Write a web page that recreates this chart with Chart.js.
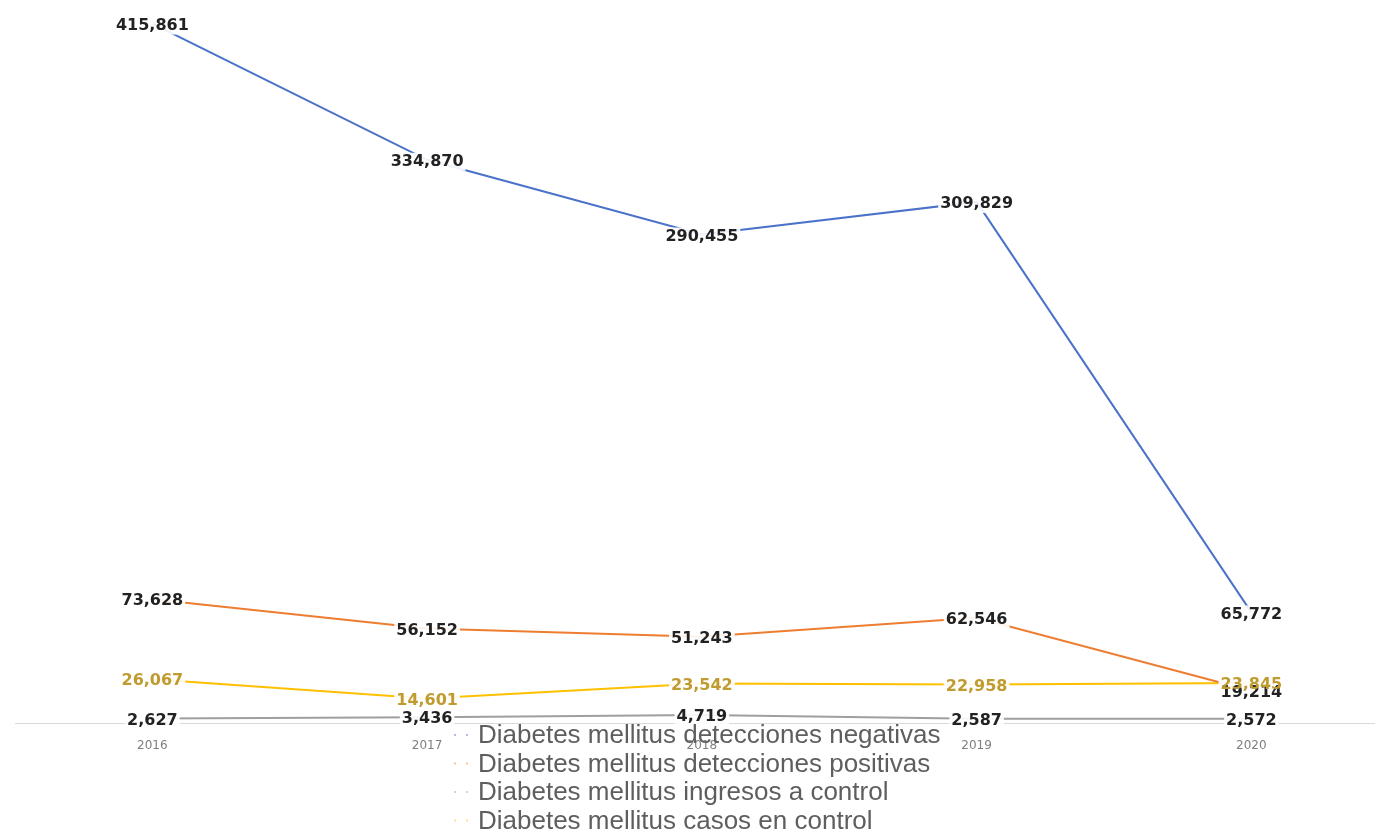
<!DOCTYPE html>
<html>
<head>
<meta charset="utf-8">
<script src="https://cdn.jsdelivr.net/npm/chart.js@4/dist/chart.umd.min.js"></script>
<style>
    body { margin: 0; background: #ffffff; }
    canvas { display: block; }
</style>
</head>
<body>
<canvas id="chart" width="1375" height="833"></canvas>
<script>
const years = [2016, 2017, 2018, 2019, 2020]

const series_names = [
    'Diabetes mellitus detecciones negativas',
    'Diabetes mellitus detecciones positivas',
    'Diabetes mellitus ingresos a control',
    'Diabetes mellitus casos en control'
]

const negativas = [415861, 334870, 290455, 309829, 65772]
const positivas = [73628, 56152, 51243, 62546, 19214]
const ingresos = [2627, 3436, 4719, 2587, 2572]
const casos_control = [26067, 14601, 23542, 22958, 23845]

const line_colors = ['#4a72c8', '#ed7d31', '#9f9f9f', '#ffc000']
const label_colors = ['#222222', '#222222', '#222222', '#bf9b30']

// data labels drawn on top of the lines, with a white box behind them
const value_labels = {
    id: 'value_labels',
    afterDatasetsDraw(chart) {
        const ctx = chart.ctx
        ctx.save()
        ctx.font = 'bold 16px "DejaVu Sans"'
        ctx.textAlign = 'center'
        ctx.textBaseline = 'middle'
        const items = []
        chart.data.datasets.forEach((dataset, i) => {
            const meta = chart.getDatasetMeta(i)
            meta.data.forEach((point, j) => {
                const text = dataset.data[j].y.toLocaleString('en-US')
                items.push({ x: point.x, y: point.y + 2, text: text, color: label_colors[i] })
            })
        })
        ctx.fillStyle = 'rgba(255,255,255,0.9)'
        items.forEach(item => {
            const w = ctx.measureText(item.text).width + 4
            ctx.fillRect(item.x - w / 2, item.y - 9, w, 18)
        })
        items.forEach(item => {
            ctx.fillStyle = item.color
            ctx.fillText(item.text, item.x, item.y)
        })
        ctx.restore()
    }
}

// the legend sits over the axis labels in the original, so it is drawn by hand
const stacked_legend = {
    id: 'stacked_legend',
    afterDraw(chart) {
        const ctx = chart.ctx
        ctx.save()
        ctx.font = '26px "Liberation Sans"'
        ctx.textBaseline = 'alphabetic'
        ctx.textAlign = 'left'
        chart.data.datasets.forEach((dataset, i) => {
            const base = 743 + i * 28.5
            ctx.globalAlpha = 0.45
            ctx.fillStyle = line_colors[i]
            ctx.fillRect(454, base - 9, 2, 2)
            ctx.fillRect(466, base - 9, 2, 2)
            ctx.globalAlpha = 1
            ctx.fillStyle = '#5e5e5e'
            ctx.fillText(dataset.label, 478, base)
        })
        ctx.restore()
    }
}

const series_values = [negativas, positivas, ingresos, casos_control]

const datasets = series_values.map((values, i) => ({
    label: series_names[i],
    data: years.map((year, j) => ({ x: year, y: values[j] })),
    borderColor: line_colors[i],
    backgroundColor: line_colors[i],
    borderWidth: 2,
    pointRadius: 0,
    tension: 0
}))

new Chart(document.getElementById('chart').getContext('2d'), {
    type: 'line',
    data: { datasets: datasets },
    plugins: [value_labels, stacked_legend],
    options: {
        responsive: false,
        animation: false,
        layout: { padding: { top: 20, left: 15, right: 0, bottom: 0 } },
        plugins: {
            legend: { display: false },
            tooltip: { enabled: false }
        },
        scales: {
            x: {
                type: 'linear',
                min: 2015.5,
                max: 2020.45,
                afterBuildTicks: scale => {
                    scale.ticks = years.map(v => ({ value: v }))
                },
                afterFit: scale => {
                    scale.height = 110
                },
                grid: { display: false, drawTicks: false },
                border: { display: true, color: '#d9d9d9', width: 1 },
                ticks: {
                    padding: 16,
                    color: '#7f7f7f',
                    font: { family: 'DejaVu Sans', size: 12 },
                    callback: value => String(value)
                }
            },
            y: {
                display: false,
                min: 0,
                max: 418000
            }
        }
    }
})
</script>
</body>
</html>
